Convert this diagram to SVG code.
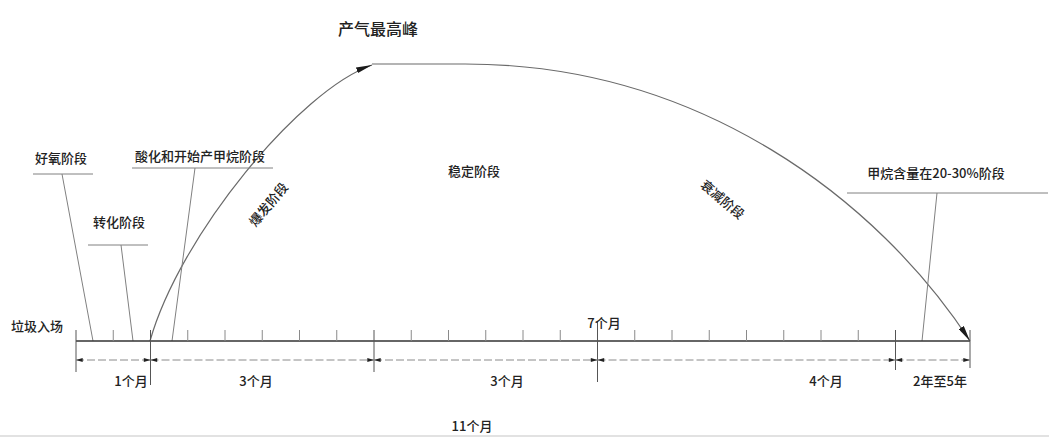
<svg xmlns="http://www.w3.org/2000/svg" width="1049" height="437" viewBox="0 0 1049 437">
  <style>
    .t { font-family: "Noto Sans CJK SC", "Liberation Sans", sans-serif; fill: #222; font-size: 13px; font-weight: 500; text-anchor: middle; dominant-baseline: central; }
    .big { font-size: 16px; }
    .lead { stroke: #808080; stroke-width: 1; fill: none; }
    .tick { stroke: #8a8a8a; stroke-width: 1; }
    .ext { stroke: #555; stroke-width: 1; }
    .axis { stroke: #333; stroke-width: 1.6; }
    .dim { stroke: #8a8a8a; stroke-width: 1; stroke-dasharray: 8 3; }
    .curve { stroke: #6a6a6a; stroke-width: 1.2; fill: none; }
  </style>
  <defs>
    <marker id="dimArrow" viewBox="0 0 10 6" refX="10" refY="3" markerWidth="9" markerHeight="4" orient="auto-start-reverse" markerUnits="userSpaceOnUse">
      <path d="M0,0 L10,3 L0,6 z" fill="#222"/>
    </marker>
    <marker id="curveArrow" viewBox="0 0 16 6" refX="16" refY="3" markerWidth="16" markerHeight="6" orient="auto" markerUnits="userSpaceOnUse">
      <path d="M0,0 L16,3 L0,6 z" fill="#1a1a1a"/>
    </marker>
  </defs>
  <rect x="0" y="0" width="1049" height="437" fill="#ffffff"/>
  <rect x="0" y="435" width="1049" height="2" fill="#e2e2e2"/>

  <g id="connectors">
    <path class="curve" d="M150,341 C180,235 300,90 372,65" marker-end="url(#curveArrow)"/>
    <path class="curve" d="M372,64 L465,64 C700,64 878,200 970,341" marker-end="url(#curveArrow)"/>
    <path class="lead" d="M62,174 L93,341"/>
    <path class="lead" d="M121,245 L133,341"/>
    <path class="lead" d="M195,168 L172,341"/>
    <path class="lead" d="M937,193 L922,341"/>
  </g>

  <g id="axis">
    <line class="axis" x1="76" y1="341" x2="970" y2="341"/>
    <g class="tick">
      <line x1="113.25" y1="330" x2="113.25" y2="341"/>
      <line x1="187.75" y1="330" x2="187.75" y2="341"/>
      <line x1="225" y1="330" x2="225" y2="341"/>
      <line x1="262.25" y1="330" x2="262.25" y2="341"/>
      <line x1="299.5" y1="330" x2="299.5" y2="341"/>
      <line x1="336.75" y1="330" x2="336.75" y2="341"/>
      <line x1="411.25" y1="330" x2="411.25" y2="341"/>
      <line x1="448.5" y1="330" x2="448.5" y2="341"/>
      <line x1="485.75" y1="330" x2="485.75" y2="341"/>
      <line x1="523" y1="330" x2="523" y2="341"/>
      <line x1="560.25" y1="330" x2="560.25" y2="341"/>
      <line x1="634.75" y1="330" x2="634.75" y2="341"/>
      <line x1="672" y1="330" x2="672" y2="341"/>
      <line x1="709.25" y1="330" x2="709.25" y2="341"/>
      <line x1="746.5" y1="330" x2="746.5" y2="341"/>
      <line x1="783.75" y1="330" x2="783.75" y2="341"/>
      <line x1="821" y1="330" x2="821" y2="341"/>
      <line x1="858.25" y1="330" x2="858.25" y2="341"/>
    </g>
    <g class="ext">
      <line x1="76" y1="330" x2="76" y2="372"/>
      <line x1="150.5" y1="330" x2="150.5" y2="385"/>
      <line x1="374" y1="330" x2="374" y2="372"/>
      <line x1="597.5" y1="322" x2="597.5" y2="382"/>
      <line x1="895.5" y1="330" x2="895.5" y2="370"/>
      <line x1="970" y1="330" x2="970" y2="368"/>
    </g>
    <g id="dimensions">
      <line class="dim" x1="76" y1="360" x2="150.5" y2="360" marker-start="url(#dimArrow)" marker-end="url(#dimArrow)"/>
      <line class="dim" x1="150.5" y1="360" x2="374" y2="360" marker-start="url(#dimArrow)" marker-end="url(#dimArrow)"/>
      <line class="dim" x1="374" y1="360" x2="597.5" y2="360" marker-start="url(#dimArrow)" marker-end="url(#dimArrow)"/>
      <line class="dim" x1="597.5" y1="360" x2="895.5" y2="360" marker-start="url(#dimArrow)" marker-end="url(#dimArrow)"/>
      <line class="dim" x1="895.5" y1="360" x2="970" y2="360" marker-start="url(#dimArrow)" marker-end="url(#dimArrow)"/>
    </g>
  </g>

  <g id="peak"><text class="t big" x="378" y="28">产气最高峰</text></g>
  <g id="aerobic">
    <text class="t" x="61" y="157">好氧阶段</text>
    <line class="lead" x1="33" y1="174" x2="93" y2="174"/>
  </g>
  <g id="transition">
    <text class="t" x="119" y="221">转化阶段</text>
    <line class="lead" x1="88" y1="245" x2="148" y2="245"/>
  </g>
  <g id="acid">
    <text class="t" x="200" y="155">酸化和开始产甲烷阶段</text>
    <line class="lead" x1="132" y1="168" x2="273" y2="168"/>
  </g>
  <g id="methane">
    <text class="t" x="936" y="172">甲烷含量在20-30%阶段</text>
    <line class="lead" x1="847" y1="193" x2="1048" y2="193"/>
  </g>
  <g id="burst"><text class="t" x="268" y="204" transform="rotate(-50 268 204)">爆发阶段</text></g>
  <g id="stable"><text class="t" x="474" y="170">稳定阶段</text></g>
  <g id="decay"><text class="t" x="723" y="199" transform="rotate(40 723 199)">衰减阶段</text></g>
  <g id="entry"><text class="t" x="37" y="325">垃圾入场</text></g>
  <g id="labels">
    <text class="t" x="604" y="322">7个月</text>
    <text class="t" x="131" y="380">1个月</text>
    <text class="t" x="256" y="380">3个月</text>
    <text class="t" x="507" y="380">3个月</text>
    <text class="t" x="826" y="380">4个月</text>
    <text class="t" x="940" y="380">2年至5年</text>
    <text class="t" x="472" y="425">11个月</text>
  </g>
</svg>
